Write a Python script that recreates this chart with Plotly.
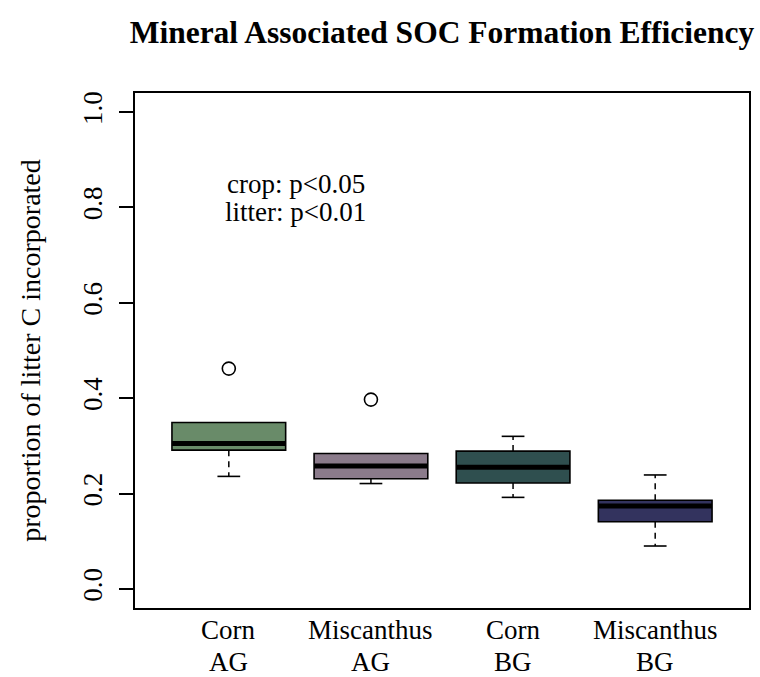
import plotly.graph_objects as go

# Groups (crop / litter position)
crop_names = ["Corn", "Miscanthus", "Corn", "Miscanthus"]
litter_names = ["AG", "AG", "BG", "BG"]
positions = [1, 2, 3, 4]

# Box-plot summary statistics (proportion of litter C incorporated)
q1 = [0.291, 0.231, 0.222, 0.141]
median = [0.305, 0.258, 0.255, 0.174]
q3 = [0.349, 0.284, 0.289, 0.186]
whisker_low = [0.236, 0.221, 0.192, 0.090]
whisker_high = [0.349, 0.284, 0.320, 0.239]
outlier_x = [1, 2]
outlier_y = [0.462, 0.397]

fill_colors = ["#698B69", "#8B7B8B", "#2F4F4F", "#33335E"]

y_ticks = [0.0, 0.2, 0.4, 0.6, 0.8, 1.0]
y_tick_labels = ["0.0", "0.2", "0.4", "0.6", "0.8", "1.0"]

stats_notes = ["crop: p<0.05", "litter: p<0.01"]
notes_x = 1.47
notes_y = [0.85, 0.79]

FONT = "Liberation Serif"
BOX_W = 0.8
CAP_HALF = 0.08

fig = go.Figure()

# Box bodies
for i, pos in enumerate(positions):
    fig.add_trace(go.Box(
        x=[pos], q1=[q1[i]], median=[median[i]], q3=[q3[i]],
        lowerfence=[q1[i]], upperfence=[q3[i]],
        width=BOX_W, whiskerwidth=0, boxpoints=False,
        fillcolor=fill_colors[i],
        line=dict(color="black", width=1.6),
        hoverinfo="skip", showlegend=False,
    ))

# Dashed whiskers
wx, wy = [], []
for i, pos in enumerate(positions):
    if whisker_high[i] > q3[i]:
        wx += [pos, pos, None]
        wy += [q3[i], whisker_high[i], None]
    if whisker_low[i] < q1[i]:
        wx += [pos, pos, None]
        wy += [q1[i], whisker_low[i], None]
fig.add_trace(go.Scatter(x=wx, y=wy, mode="lines",
                         line=dict(color="black", width=1.5, dash="6px,5px"),
                         hoverinfo="skip", showlegend=False))

# Whisker caps
cx, cy = [], []
for i, pos in enumerate(positions):
    for v, edge in ((whisker_high[i], q3[i]), (whisker_low[i], q1[i])):
        if v != edge:
            cx += [pos - CAP_HALF, pos + CAP_HALF, None]
            cy += [v, v, None]
fig.add_trace(go.Scatter(x=cx, y=cy, mode="lines",
                         line=dict(color="black", width=1.6),
                         hoverinfo="skip", showlegend=False))

# Thick median bars
mx, my = [], []
for i, pos in enumerate(positions):
    mx += [pos - BOX_W / 2, pos + BOX_W / 2, None]
    my += [median[i], median[i], None]
fig.add_trace(go.Scatter(x=mx, y=my, mode="lines",
                         line=dict(color="black", width=5),
                         hoverinfo="skip", showlegend=False))

# Outliers
fig.add_trace(go.Scatter(x=outlier_x, y=outlier_y, mode="markers",
                         marker=dict(symbol="circle-open", size=13,
                                     color="black", line=dict(width=1.6)),
                         hoverinfo="skip", showlegend=False))

# Two-row category labels under each box
for pos, crop, litter in zip(positions, crop_names, litter_names):
    fig.add_annotation(x=pos, xref="x", y=0, yref="paper", text=crop,
                       showarrow=False, xanchor="center", yanchor="middle",
                       yshift=-22, font=dict(family=FONT, size=27, color="black"))
    fig.add_annotation(x=pos, xref="x", y=0, yref="paper", text=litter,
                       showarrow=False, xanchor="center", yanchor="middle",
                       yshift=-54, font=dict(family=FONT, size=27, color="black"))

for txt, yy in zip(stats_notes, notes_y):
    fig.add_annotation(x=notes_x, y=yy, text=txt, showarrow=False,
                       font=dict(family=FONT, size=27, color="black"),
                       xanchor="center", yanchor="middle")

x_range = [0.34, 4.66]
fig.update_layout(
    width=760, height=677,
    margin=dict(l=135, r=11, t=93, b=69),
    paper_bgcolor="white", plot_bgcolor="white",
    font=dict(family=FONT, size=27, color="black"),
    title=dict(text="<b>Mineral Associated SOC Formation Efficiency</b>",
               font=dict(family=FONT, size=31.5, color="black"),
               x=0.5, xanchor="center", y=0.953, yanchor="middle",
               xref="paper", yref="container"),
    xaxis=dict(range=x_range, tickvals=positions, showticklabels=False,
               ticks="", showgrid=False, zeroline=False, automargin=False,
               showline=True, mirror=True, linecolor="black", linewidth=1.6),
    yaxis=dict(range=[-0.04, 1.04], tickvals=y_ticks, ticktext=y_tick_labels,
               ticks="outside", ticklen=14, tickwidth=1.6, tickcolor="black",
               tickangle=-90, showgrid=False, zeroline=False, automargin=False,
               showline=True, mirror=True, linecolor="black", linewidth=1.6,
               tickfont=dict(size=27), ticklabelstandoff=6,
               title=dict(text="proportion of litter C incorporated",
                          font=dict(size=28), standoff=30)),
)

fig.write_html("out.html")
